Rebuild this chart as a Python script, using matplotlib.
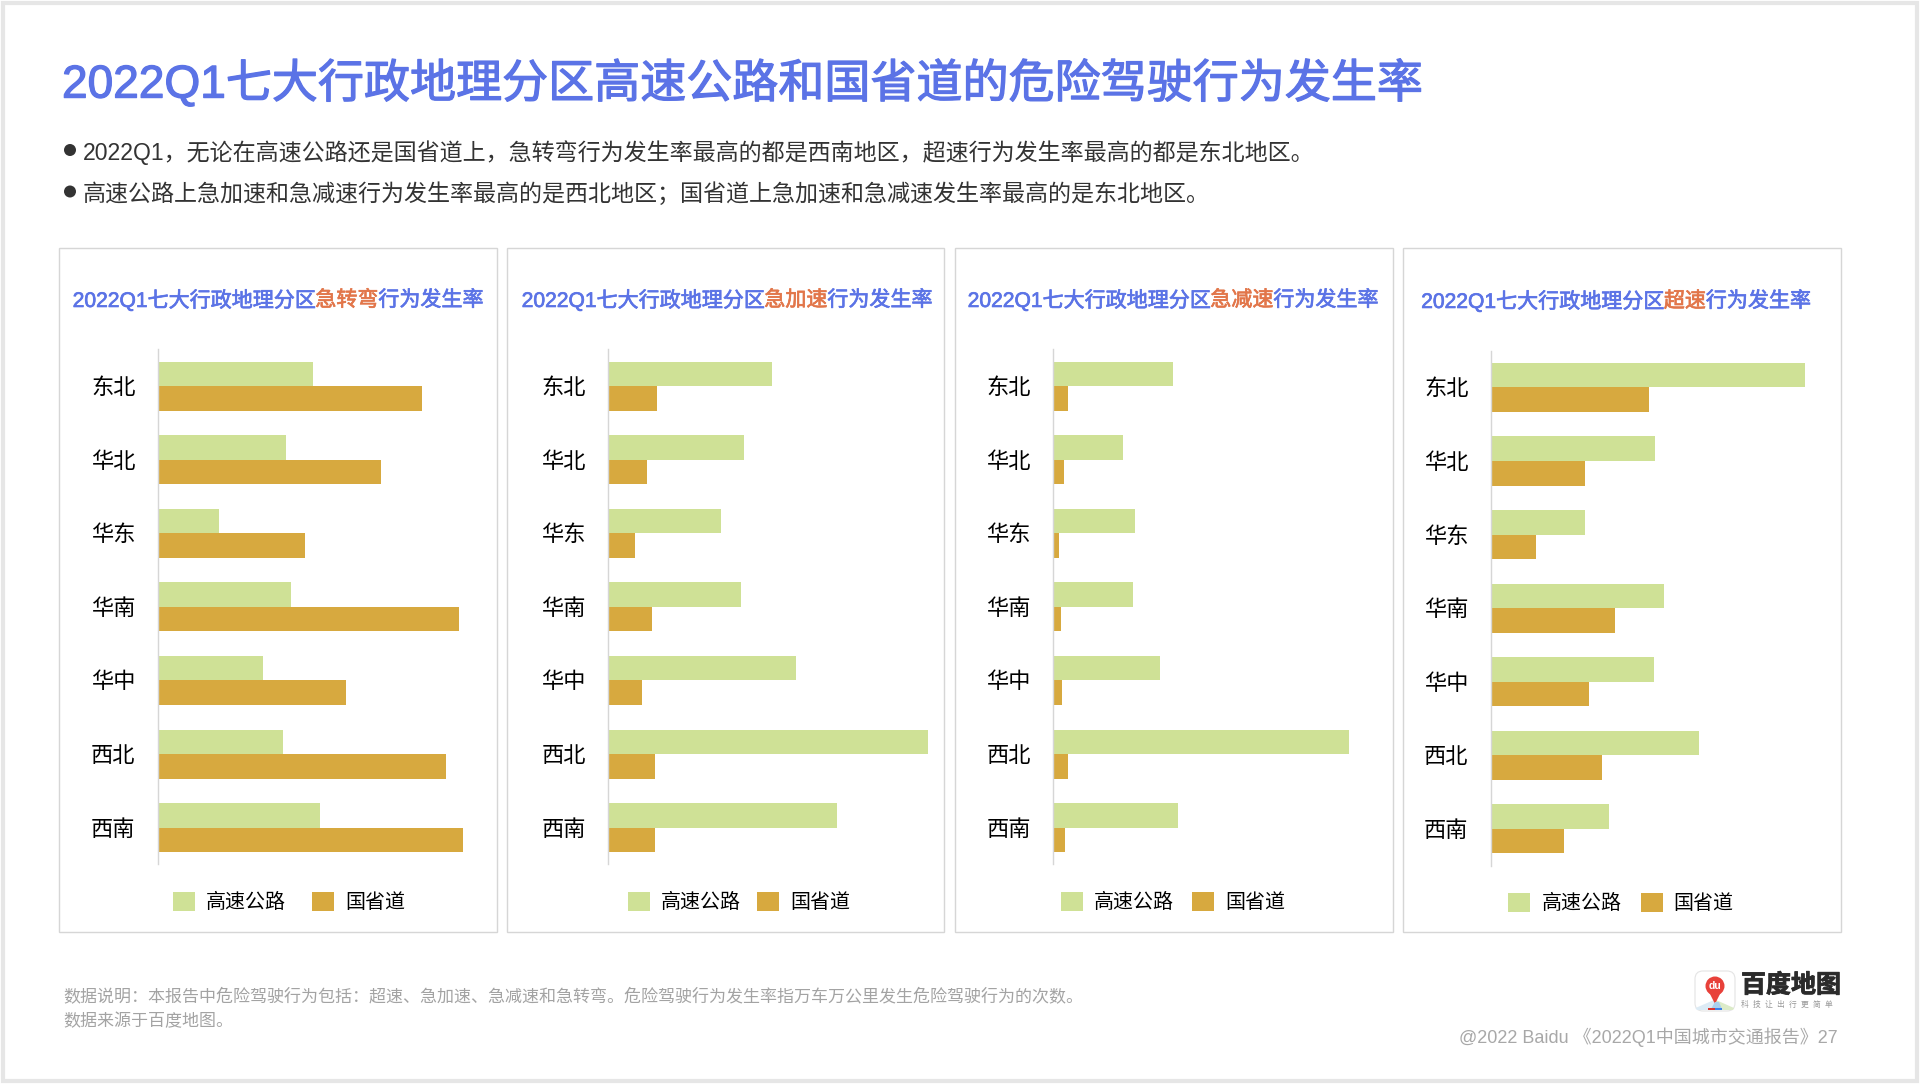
import matplotlib
matplotlib.use('Agg')
import matplotlib.pyplot as plt
import matplotlib.patheffects as pe
from matplotlib.patches import Rectangle, Circle, FancyBboxPatch, Polygon

plt.rcParams['font.family'] = ['Liberation Sans', 'Noto Sans CJK SC', 'DejaVu Sans']

W, H = 1920, 1084
S = 1920 / 1566  # reading scale of the picture

regions = ['东北', '华北', '华东', '华南', '华中', '西北', '西南']
series_names = ['高速公路', '国省道']

# values, no axis is shown so units are relative
turn_highway = [127, 105, 50, 109, 86, 102, 132]
turn_road = [216, 182, 120, 246, 154, 235, 249]
accel_highway = [134, 111, 92, 108, 153, 261, 187]
accel_road = [40, 32, 22, 36, 28, 38, 38]
brake_highway = [98, 57, 67, 65, 87, 241, 102]
brake_road = [12, 9, 5, 6, 7, 12, 10]
speed_highway = [256, 134, 77, 141, 133, 170, 96]
speed_road = [129, 77, 37, 101, 80, 91, 60]

BLUE = '#5B73E6'
ORANGE = '#E2764A'
GREEN = '#CFE196'
GOLD = '#D7A93F'
BORDER = '#D6D6D6'


def medium(color, w=0.5):
    # the installed CJK face has no medium weight, thicken the regular one
    return [pe.withStroke(linewidth=w, foreground=color)]


fig = plt.figure(figsize=(W / 100, H / 100), dpi=100, facecolor='white')
bg = fig.add_axes([0, 0, 1, 1], zorder=0)
bg.set_xlim(0, W)
bg.set_ylim(H, 0)
bg.axis('off')

# outer slide border
bg.add_patch(Rectangle((3, 3), W - 6, H - 6, fc='white', ec='#E6E6E6', lw=3))

bg.text(62, 84, '2022Q1七大行政地理分区高速公路和国省道的危险驾驶行为发生率',
        fontsize=33.15, color=BLUE, va='center', path_effects=medium(BLUE, 0.9))
bullets = ['2022Q1，无论在高速公路还是国省道上，急转弯行为发生率最高的都是西南地区，超速行为发生率最高的都是东北地区。',
           '高速公路上急加速和急减速行为发生率最高的是西北地区；国省道上急加速和急减速发生率最高的是东北地区。']
for y, line in zip([153, 194.5], bullets):
    bg.add_patch(Circle((70, y - 3), 6, fc='#333333', ec='none'))
    bg.text(83, y, line, fontsize=16.6, color='#333333', va='center')


def colored_title(xc, y, parts, size):
    # lay the coloured pieces side by side, centred on xc
    r = fig.canvas.get_renderer()
    items = [bg.text(0, y, t, fontsize=size, color=c, va='center', path_effects=medium(c, 0.5)) for t, c in parts]
    widths = [i.get_window_extent(r).width for i in items]
    x = xc - sum(widths) / 2
    for item, w in zip(items, widths):
        item.set_x(x)
        x += w


def panel(left, right, axis_x, top_shift, word, tail, highway, road, title_xc, title_y, title_size,
          legend_xc, legend_y, col_space):
    bg.add_patch(Rectangle((left, 247.5), right - left, 684.5, fc='white', ec=BORDER, lw=1))
    colored_title(title_xc, title_y, [('2022Q1七大行政地理分区', BLUE), (word, ORANGE), (tail, BLUE)], title_size)

    y0 = (285 + top_shift) * S
    y1 = (705 + top_shift) * S
    x0 = axis_x * S
    width = 270 * S
    ax = fig.add_axes([x0 / W, 1 - y1 / H, width / W, (y1 - y0) / H], zorder=1)
    ax.patch.set_alpha(0)
    pos = list(range(len(regions)))
    h = 1 / 3
    b1 = ax.barh([p - h / 2 for p in pos], highway, height=h, color=GREEN, label=series_names[0])
    b2 = ax.barh([p + h / 2 for p in pos], road, height=h, color=GOLD, label=series_names[1])
    ax.set_xlim(0, 270)
    ax.set_ylim(len(regions) - 0.5, -0.5)
    ax.set_yticks(pos)
    ax.set_yticklabels(regions, fontsize=16, color='black')
    ax.set_xticks([])
    ax.tick_params(axis='y', length=0, pad=16)
    for s in ['top', 'right', 'bottom']:
        ax.spines[s].set_visible(False)
    ax.spines['left'].set_color(BORDER)
    ax.spines['left'].set_linewidth(1)
    ax.legend(handles=[b1, b2], loc='center', ncol=2, frameon=False, fontsize=14.4,
              bbox_to_anchor=(legend_xc / W, 1 - legend_y / H), bbox_transform=fig.transFigure,
              handlelength=1.1, handleheight=1.1, handletextpad=0.55, columnspacing=col_space,
              borderpad=0, labelcolor='black')


panel(59, 497, 128.6, 0, '急转弯', '行为发生率', turn_highway, turn_road, 278, 300, 15.15,
      289, 902, 1.28)
panel(507, 944, 496, 0, '急加速', '行为发生率', accel_highway, accel_road, 727, 300, 15.15,
      739, 902, 0.8)
panel(955, 1393, 859, 0, '急减速', '行为发生率', brake_highway, brake_road, 1173, 300, 15.15,
      1173, 902, 0.88)
panel(1403, 1841, 1216, 1, '超速', '行为发生率', speed_highway, speed_road, 1616, 301, 15.15,
      1621, 903, 0.96)

bg.text(63, 997, '数据说明：本报告中危险驾驶行为包括：超速、急加速、急减速和急转弯。危险驾驶行为发生率指万车万公里发生危险驾驶行为的次数。',
        fontsize=12.25, color='#A3A3A3', va='center')
bg.text(63, 1021, '数据来源于百度地图。', fontsize=12.25, color='#A3A3A3', va='center')
bg.text(1838, 1037, '@2022 Baidu 《2022Q1中国城市交通报告》27', fontsize=12.97, color='#A8A8A8',
        va='center', ha='right')

# logo
bg.add_patch(FancyBboxPatch((1698, 974), 34, 34, boxstyle='round,pad=3,rounding_size=8',
                            fc='white', ec='#E4E4E4', lw=0.8))
bg.add_patch(Polygon([[1695.5, 1008], [1714, 1000], [1714, 1010], [1697, 1010]], fc='#DCEBF5', ec='none'))
bg.add_patch(Polygon([[1734, 1008], [1716, 1000], [1716, 1010], [1733, 1010]], fc='#DCEBC8', ec='none'))
bg.add_patch(Polygon([[1708, 990], [1715, 1004], [1722, 990]], fc='#E8413A', ec='none'))
bg.add_patch(Circle((1715, 986), 9.5, fc='#E8413A', ec='none'))
bg.add_patch(Polygon([[1711, 1009], [1715, 1002], [1719, 1002], [1722, 1009]], fc='#A8D0EE', ec='none'))
bg.add_patch(Rectangle((1708, 1008), 7, 2, fc='#D8352F', ec='none'))
bg.add_patch(Rectangle((1715, 1008), 7, 2, fc='#3D7FE8', ec='none'))
bg.text(1715, 986, 'du', fontsize=7.5, color='white', ha='center', va='center', weight='bold')
bg.text(1741, 985.5, '百度地图', fontsize=18, color='#2B2B2B', weight='bold', va='center',
        family=['Noto Sans CJK SC'], path_effects=medium('#2B2B2B', 0.6))
bg.text(1741, 1004.5, '科  技  让  出  行  更  简  单', fontsize=5.6, color='#999999', va='center')

fig.savefig('out.png', dpi=100, facecolor='white')
